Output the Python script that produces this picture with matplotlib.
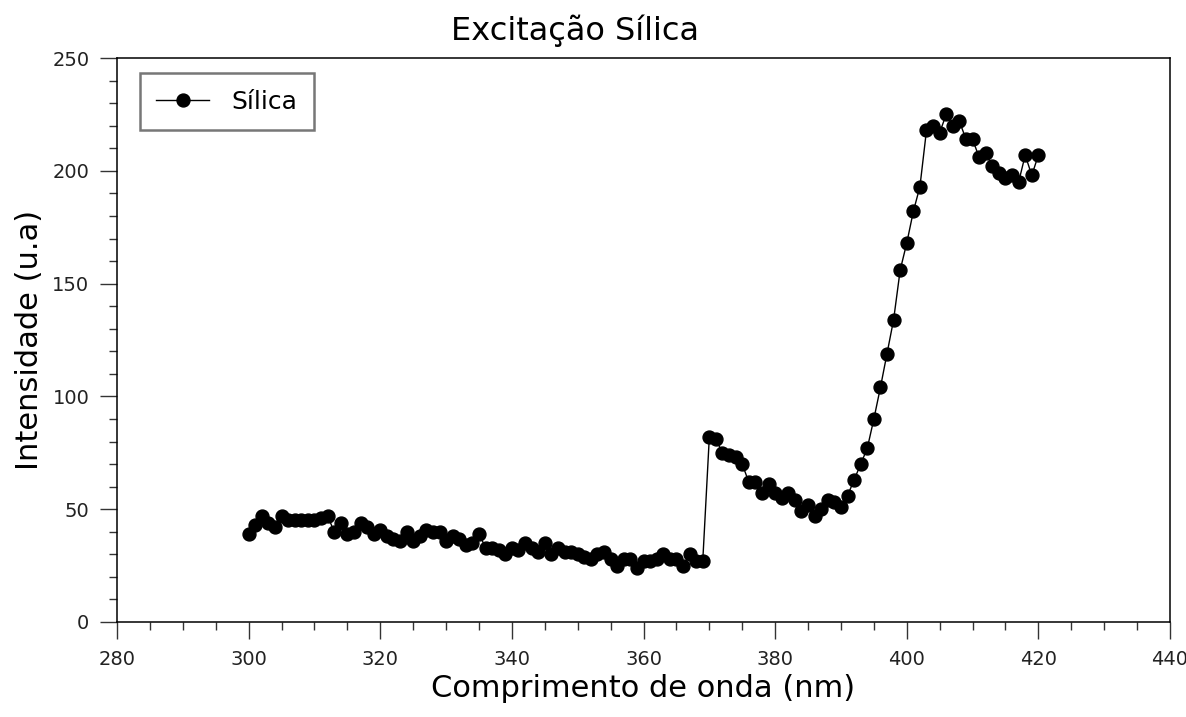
import matplotlib.pyplot as plt
from matplotlib.ticker import MultipleLocator

plt.rcParams.update({
    "font.family": "DejaVu Sans",
    "font.size": 14,
})

# wavelength (nm), one reading per nm from 300 to 420
wavelength = list(range(300, 421))

# emission intensity (u.a)
intensity = [
    39, 43, 47, 44, 42, 47, 45, 45, 45, 45,   # 300-309
    45, 46, 47, 40, 44, 39, 40, 44, 42, 39,   # 310-319
    41, 38, 37, 36, 40, 36, 38, 41, 40, 40,   # 320-329
    36, 38, 37, 34, 35, 39, 33, 33, 32, 30,   # 330-339
    33, 32, 35, 33, 31, 35, 30, 33, 31, 31,   # 340-349
    30, 29, 28, 30, 31, 28, 25, 28, 28, 24,   # 350-359
    27, 27, 28, 30, 28, 28, 25, 30, 27, 27,   # 360-369
    82, 81, 75, 74, 73, 70, 62, 62, 57, 61,   # 370-379
    57, 55, 57, 54, 49, 52, 47, 50, 54, 53,   # 380-389
    51, 56, 63, 70, 77, 90, 104, 119, 134, 156,  # 390-399
    168, 182, 193, 218, 220, 217, 225, 220, 222, 214,  # 400-409
    214, 206, 208, 202, 199, 197, 198, 195, 207, 198,  # 410-419
    207,  # 420
]

series_label = "Sílica"
title = "Excitação Sílica"
x_label = "Comprimento de onda (nm)"
y_label = "Intensidade (u.a)"

fig = plt.figure(figsize=(11.86, 7.17), dpi=100)
ax = fig.add_axes([0.0987, 0.1325, 0.8878, 0.7865])

ax.plot(wavelength, intensity, color="black", linewidth=1.0,
        marker="o", markersize=9.3, label=series_label)

ax.set_xlim(280, 440)
ax.set_ylim(0, 250)
ax.xaxis.set_major_locator(MultipleLocator(20))
ax.xaxis.set_minor_locator(MultipleLocator(5))
ax.yaxis.set_major_locator(MultipleLocator(50))
ax.yaxis.set_minor_locator(MultipleLocator(10))

ax.tick_params(which="major", direction="out", length=12, width=1.0,
               pad=8, labelsize=14, color="#333333", labelcolor="#222222")
ax.tick_params(which="minor", direction="out", length=6, width=1.0,
               color="#333333")
ax.tick_params(top=False, right=False, which="both")

for side in ax.spines.values():
    side.set_linewidth(1.1)

ax.set_title(title, fontsize=23, x=0.435, pad=13)
ax.set_xlabel(x_label, fontsize=22, labelpad=4)
ax.set_ylabel(y_label, fontsize=22, labelpad=6)

leg = ax.legend(loc="upper left", fontsize=18, fancybox=False,
                edgecolor="#777777", framealpha=1, handlelength=2.1,
                borderpad=0.65, borderaxespad=0, handletextpad=0.9,
                bbox_to_anchor=(0.022, 0.973))
leg.get_frame().set_linewidth(1.8)

fig.savefig("out.png", dpi=100)
